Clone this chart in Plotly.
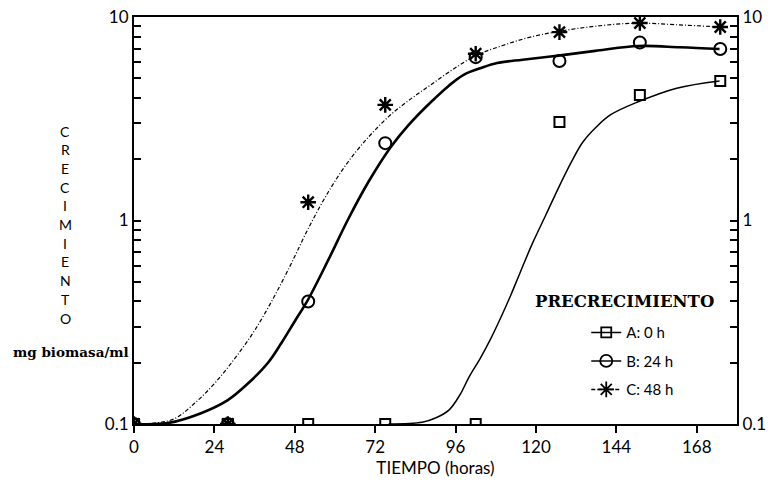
import plotly.graph_objects as go

# Sampling times (hours) of the biomass measurements
tiempo = [0, 28, 52, 75, 102, 127, 151, 175]

# Measured growth (mg biomass/ml) for each pre-growth time
crec_a = [0.1, 0.1, 0.1, 0.1, 0.1, 3.05, 4.14, 4.85]
crec_b = [0.1, 0.1, 0.40, 2.40, 6.35, 6.08, 7.5, 6.96]
crec_c = [0.1, 0.1, 1.23, 3.70, 6.6, 8.43, 9.34, 8.93]

# Fitted growth curves, sampled along time
ajuste_a_t = [76, 86, 90, 94, 97.4, 100, 103.4, 106.5, 109.4, 112.4, 115.4, 119, 123, 127,
              130.5, 134, 138, 142.3, 150.3, 162, 174.8]
ajuste_a_v = [0.1, 0.102, 0.107, 0.117, 0.140, 0.170, 0.211, 0.263, 0.331, 0.427, 0.562, 0.776,
              1.07, 1.48, 1.93, 2.43, 2.88, 3.31, 3.82, 4.47, 4.85]

ajuste_b_t = [0, 10, 20, 28, 34, 40, 44, 48, 52, 58, 64, 70, 76.5, 82, 88.5, 94, 98.4, 104,
              108.4, 116, 126.7, 138.4, 150.6, 163, 174.8]
ajuste_b_v = [0.1, 0.101, 0.113, 0.131, 0.158, 0.2, 0.25, 0.32, 0.41, 0.64, 1.02, 1.55, 2.28, 2.95,
              3.8, 4.6, 5.2, 5.65, 5.94, 6.17, 6.46, 6.84, 7.2, 7.1, 6.96]

ajuste_c_t = [0, 6, 12, 18, 24, 30, 36, 42, 47, 52, 58, 64, 70, 76, 82, 88, 95, 102, 110, 118,
              127, 138, 150, 162, 175]
ajuste_c_v = [0.1, 0.101, 0.106, 0.126, 0.158, 0.209, 0.288, 0.427, 0.617, 0.912, 1.38, 1.95,
              2.57, 3.24, 3.89, 4.57, 5.50, 6.46, 7.24, 7.94, 8.51, 9.02, 9.33, 9.16, 8.93]

x_ticks = [0, 24, 48, 72, 96, 120, 144, 168]
y_major = {0.1: "0.1", 1: "1", 10: "10"}
y_minor = [0.2, 0.3, 0.4, 0.5, 0.6, 0.7, 0.8, 0.9, 2, 3, 4, 5, 6, 7, 8, 9]

etiquetas = ["A: 0 h", "B: 24 h", "C: 48 h"]

NEGRO = "black"
FUENTE = "Lato"

fig = go.Figure()

# fitted curves
fig.add_trace(go.Scatter(x=ajuste_c_t, y=ajuste_c_v, mode="lines",
                         line=dict(color=NEGRO, width=1.2, dash="4px,2px,1px,2px", shape="spline"),
                         showlegend=False, hoverinfo="skip"))
fig.add_trace(go.Scatter(x=ajuste_b_t, y=ajuste_b_v, mode="lines",
                         line=dict(color=NEGRO, width=2.6, shape="spline"),
                         showlegend=False, hoverinfo="skip"))
fig.add_trace(go.Scatter(x=ajuste_a_t, y=ajuste_a_v, mode="lines",
                         line=dict(color=NEGRO, width=1.5, shape="spline"),
                         showlegend=False, hoverinfo="skip"))

# measured points
fig.add_trace(go.Scatter(x=tiempo, y=crec_a, mode="markers",
                         marker=dict(symbol="square-open", size=10, color=NEGRO, line=dict(width=2)),
                         showlegend=False))
fig.add_trace(go.Scatter(x=tiempo, y=crec_b, mode="markers",
                         marker=dict(symbol="circle-open", size=12, color=NEGRO, line=dict(width=2)),
                         showlegend=False))
fig.add_trace(go.Scatter(x=tiempo, y=crec_c, mode="markers",
                         marker=dict(symbol="asterisk-open", size=13, color=NEGRO, line=dict(width=2.4)),
                         showlegend=False))

# legend entries (line + symbol)
simbolos = ["square-open", "circle-open", "asterisk-open"]
tamanos = [10, 12, 13]
trazos = ["solid", "solid", "4px,2px"]
for i, nombre in enumerate(etiquetas):
    fig.add_trace(go.Scatter(x=[None], y=[None], mode="lines+markers", name=nombre,
                             legendgroup=nombre,
                             line=dict(color=NEGRO, width=1.5, dash=trazos[i]),
                             marker=dict(symbol=simbolos[i], size=tamanos[i], color=NEGRO,
                                         line=dict(width=1.8))))

# helper trace for the right-hand axis
fig.add_trace(go.Scatter(x=[0, 0], y=[0.1, 10], yaxis="y2", mode="markers",
                         marker=dict(opacity=0), showlegend=False, hoverinfo="skip"))

y_vals = sorted(list(y_major) + y_minor)
y_text = [y_major.get(v, "") for v in y_vals]

eje_y = dict(type="log", range=[-1, 1], tickmode="array", tickvals=y_vals, ticktext=y_text,
             ticks="inside", ticklen=7, tickwidth=2, tickcolor=NEGRO,
             showline=True, linewidth=2, linecolor=NEGRO, showgrid=False, zeroline=False,
             tickfont=dict(family=FUENTE, size=17, color=NEGRO))

fig.update_layout(
    template="none",
    width=773, height=486,
    margin=dict(l=134, r=36, t=17, b=62),
    paper_bgcolor="white", plot_bgcolor="white",
    font=dict(family=FUENTE, color=NEGRO),
    xaxis=dict(range=[0, 180], tickmode="array", tickvals=x_ticks,
               ticks="outside", ticklen=7, tickwidth=2, tickcolor=NEGRO,
               showline=True, linewidth=2, linecolor=NEGRO, mirror=True,
               showgrid=False, zeroline=False,
               tickfont=dict(family=FUENTE, size=17, color=NEGRO),
               title=dict(text="TIEMPO (horas)", font=dict(family=FUENTE, size=17, color=NEGRO),
                          standoff=2)),
    yaxis=eje_y,
    yaxis2=dict(eje_y, overlaying="y", side="right"),
    legend=dict(x=0.75, y=0.265, xanchor="left", yanchor="top",
                tracegroupgap=6, itemwidth=30,
                font=dict(family=FUENTE, size=15, color=NEGRO),
                bgcolor="rgba(0,0,0,0)"),
    showlegend=True,
)

fig.add_annotation(text="PRECRECIMIENTO", xref="paper", yref="paper", x=0.965, y=0.30,
                   xanchor="right", yanchor="middle", showarrow=False,
                   font=dict(family="DejaVu Serif", size=16.5, color=NEGRO, weight="bold"))

# vertical stacked axis label, one letter per row
titulo_y = "CRECIMIENTO"
for i, letra in enumerate(titulo_y):
    py = 131 + i * (318 - 131) / (len(titulo_y) - 1)
    fig.add_annotation(text=letra, xref="paper", yref="paper",
                       x=(65 - 134) / 603, y=(424 - py) / 407, xanchor="center", yanchor="middle",
                       showarrow=False, borderpad=0,
                       font=dict(family=FUENTE, size=14, color=NEGRO))

fig.add_annotation(text="mg biomasa/ml", xref="paper", yref="paper",
                   x=(131 - 134) / 603, y=(424 - 352) / 407, xanchor="right", yanchor="middle",
                   showarrow=False,
                   font=dict(family="DejaVu Serif", size=13.5, color=NEGRO, weight="bold"))

fig.write_html("out.html")
